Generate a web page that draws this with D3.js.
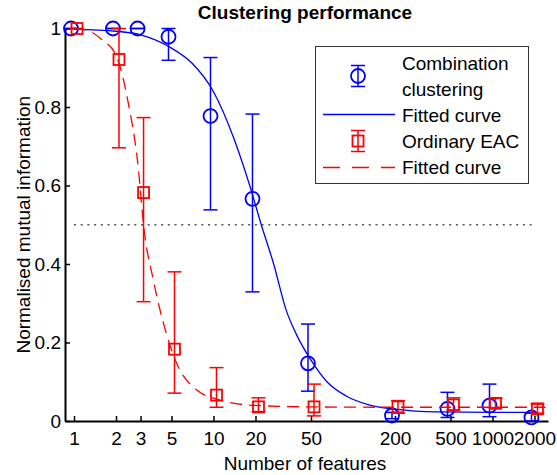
<!DOCTYPE html>
<html>
<head>
<meta charset="utf-8">
<script src="https://cdn.jsdelivr.net/npm/d3@7"></script>
<style>
  body { margin: 0; background: #fff; }
  text { font-family: "Liberation Sans", Arial, sans-serif; }
</style>
</head>
<body>
<div id="chart"></div>
<script>
let width = 557,
    height = 475;

// number of features tested
const features = [1, 2, 3, 5, 10, 20, 50, 200, 500, 1000, 2000];
const xTicks = [1, 2, 3, 5, 10, 20, 50, 200, 500, 1000, 2000];
const yTicks = [0, 0.2, 0.4, 0.6, 0.8, 1];

// combination clustering: mean and error bar ends
const comboMean = [1.0, 1.0, 1.0, 0.979, 0.777, 0.566, 0.147, 0.014, 0.031, 0.039, 0.009];
const comboLow  = [1.0, 1.0, 1.0, 0.919, 0.538, 0.329, 0.076, 0.006, 0.009, 0.011, 0.0];
const comboHigh = [1.0, 1.0, 1.0, 1.0, 0.926, 0.782, 0.247, 0.022, 0.073, 0.094, 0.02];

// ordinary EAC
const eacMean = [1.0, 0.921, 0.582, 0.183, 0.066, 0.036, 0.036, 0.036, 0.041, 0.045, 0.031];
const eacLow  = [1.0, 0.696, 0.304, 0.071, 0.035, 0.024, 0.013, 0.02, 0.028, 0.034, 0.02];
const eacHigh = [1.0, 1.0, 0.773, 0.380, 0.136, 0.059, 0.094, 0.052, 0.059, 0.058, 0.043];

// fitted curves
const comboFitX = [1, 2, 3, 5, 7, 10, 14, 18, 22, 27, 33, 40, 50, 65, 90, 130, 200, 400, 1000, 2000];
const comboFitY = [0.998, 0.993, 0.984, 0.95, 0.912, 0.839, 0.72, 0.605, 0.5, 0.4, 0.285, 0.215, 0.155, 0.1, 0.063, 0.041, 0.03, 0.023, 0.022, 0.022];
const eacFitX = [1, 1.25, 1.6, 2, 2.45, 2.9, 3.15, 3.7, 4.6, 5.4, 7.5, 11, 19, 50, 200, 2400];
const eacFitY = [0.999, 0.995, 0.97, 0.932, 0.81, 0.64, 0.5, 0.36, 0.222, 0.15, 0.08, 0.054, 0.04, 0.036, 0.035, 0.035];

const threshold = 0.5;

const blue = "#0000ff",
      red = "#ff0000";

const x = d3.scaleLog()
    .domain([0.862, 2500])
    .range([65, 548]);

const y = d3.scaleLinear()
    .domain([0, 1])
    .range([421, 28.5]);

const svg = d3.select("#chart").append("svg")
    .attr("width", width)
    .attr("height", height);

// title
svg.append("text")
    .attr("x", 305)
    .attr("y", 19)
    .attr("text-anchor", "middle")
    .attr("font-size", 19)
    .attr("font-weight", "bold")
    .text("Clustering performance");

// axes, ticks point inward, no box
const xAxis = svg.append("g")
    .attr("transform", `translate(0, ${y(0)})`)
    .call(d3.axisBottom(x)
        .tickValues(xTicks)
        .tickFormat(d3.format("d"))
        .tickSizeInner(-5)
        .tickSizeOuter(0)
        .tickPadding(11));

const yAxis = svg.append("g")
    .attr("transform", `translate(${x.range()[0]}, 0)`)
    .call(d3.axisLeft(y)
        .tickValues(yTicks)
        .tickFormat(d => d === 0 || d === 1 ? d3.format("d")(d) : d3.format(".1f")(d))
        .tickSizeInner(-5)
        .tickSizeOuter(0)
        .tickPadding(4));

[xAxis, yAxis].forEach(g => {
    g.select(".domain").attr("stroke", "#000").attr("stroke-width", 2);
    g.selectAll(".tick line").attr("stroke", "#000").attr("stroke-width", 1.5);
    g.selectAll(".tick text")
        .attr("font-size", 19)
        .attr("font-family", "Liberation Sans, Arial, sans-serif")
        .attr("fill", "#000");
});

svg.append("text")
    .attr("x", 305)
    .attr("y", 470)
    .attr("text-anchor", "middle")
    .attr("font-size", 19)
    .text("Number of features");

svg.append("text")
    .attr("transform", `translate(30, ${(y(0) + y(1)) / 2}) rotate(-90)`)
    .attr("text-anchor", "middle")
    .attr("font-size", 19)
    .text("Normalised mutual information");

// 0.5 reference line
svg.append("line")
    .attr("x1", x(1))
    .attr("x2", x(2000))
    .attr("y1", y(threshold))
    .attr("y2", y(threshold))
    .attr("stroke", "#555")
    .attr("stroke-width", 1.5)
    .attr("stroke-dasharray", "2 4.7");

const line = d3.line()
    .x(d => x(d[0]))
    .y(d => y(d[1]))
    .curve(d3.curveMonotoneX);

const errorBars = (mean, low, high, color, dx, marker) => {
    const rows = features.map((f, i) => ({ f, m: mean[i], lo: low[i], hi: high[i] }));
    const g = svg.append("g")
        .attr("stroke", color)
        .attr("fill", "none");

    const bar = g.selectAll("g")
        .data(rows)
        .enter()
        .append("g")
        .attr("transform", d => `translate(${x(d.f) + dx}, 0)`);

    bar.append("line")
        .attr("y1", d => y(d.lo))
        .attr("y2", d => y(d.hi))
        .attr("stroke-width", 1.5);

    bar.append("line")
        .attr("x1", -7).attr("x2", 7)
        .attr("y1", d => y(d.lo)).attr("y2", d => y(d.lo))
        .attr("stroke-width", 1.5);

    bar.append("line")
        .attr("x1", -7).attr("x2", 7)
        .attr("y1", d => y(d.hi)).attr("y2", d => y(d.hi))
        .attr("stroke-width", 1.5);

    if (marker === "circle") {
        bar.append("circle")
            .attr("cy", d => y(d.m))
            .attr("r", 7)
            .attr("stroke-width", 1.8);
    } else {
        bar.append("rect")
            .attr("x", -5.5)
            .attr("y", d => y(d.m) - 5.5)
            .attr("width", 11)
            .attr("height", 11)
            .attr("stroke-width", 1.8);
    }
};

errorBars(comboMean, comboLow, comboHigh, blue, -3, "circle");

svg.append("path")
    .datum(comboFitX.map((f, i) => [f, comboFitY[i]]))
    .attr("fill", "none")
    .attr("stroke", blue)
    .attr("stroke-width", 1.3)
    .attr("d", line);

errorBars(eacMean, eacLow, eacHigh, red, 3, "square");

svg.append("path")
    .datum(eacFitX.map((f, i) => [f, eacFitY[i]]))
    .attr("fill", "none")
    .attr("stroke", red)
    .attr("stroke-width", 1.3)
    .attr("stroke-dasharray", "12 7")
    .attr("d", line);

// legend
const legend = svg.append("g");

legend.append("rect")
    .attr("x", 315.5)
    .attr("y", 46.5)
    .attr("width", 213)
    .attr("height", 137)
    .attr("fill", "#fff")
    .attr("stroke", "#333")
    .attr("stroke-width", 1);

const legendSymbol = (cy, color, marker) => {
    const g = legend.append("g")
        .attr("transform", `translate(358, ${cy})`)
        .attr("stroke", color)
        .attr("fill", "none")
        .attr("stroke-width", 1.5);
    g.append("line").attr("y1", -10.5).attr("y2", 10.5);
    g.append("line").attr("x1", -7).attr("x2", 7).attr("y1", -10.5).attr("y2", -10.5);
    g.append("line").attr("x1", -7).attr("x2", 7).attr("y1", 10.5).attr("y2", 10.5);
    if (marker === "circle") {
        g.append("circle").attr("r", 7).attr("stroke-width", 1.8);
    } else {
        g.append("rect").attr("x", -5.5).attr("y", -5.5)
            .attr("width", 11).attr("height", 11).attr("stroke-width", 1.8);
    }
};

legendSymbol(76, blue, "circle");
legendSymbol(141, red, "square");

legend.append("line")
    .attr("x1", 323).attr("x2", 395)
    .attr("y1", 114.5).attr("y2", 114.5)
    .attr("stroke", blue)
    .attr("stroke-width", 1.3);

legend.append("line")
    .attr("x1", 323).attr("x2", 395)
    .attr("y1", 167.5).attr("y2", 167.5)
    .attr("stroke", red)
    .attr("stroke-width", 1.3)
    .attr("stroke-dasharray", "17 12");

const legendLabels = ["Combination", "clustering", "Fitted curve", "Ordinary EAC", "Fitted curve"];
const legendBaselines = [70, 96, 122, 148, 174];

legend.selectAll("text.label")
    .data(legendLabels)
    .enter()
    .append("text")
    .attr("class", "label")
    .attr("x", 402)
    .attr("y", (d, i) => legendBaselines[i])
    .attr("font-size", 19)
    .text(d => d);
</script>
</body>
</html>
